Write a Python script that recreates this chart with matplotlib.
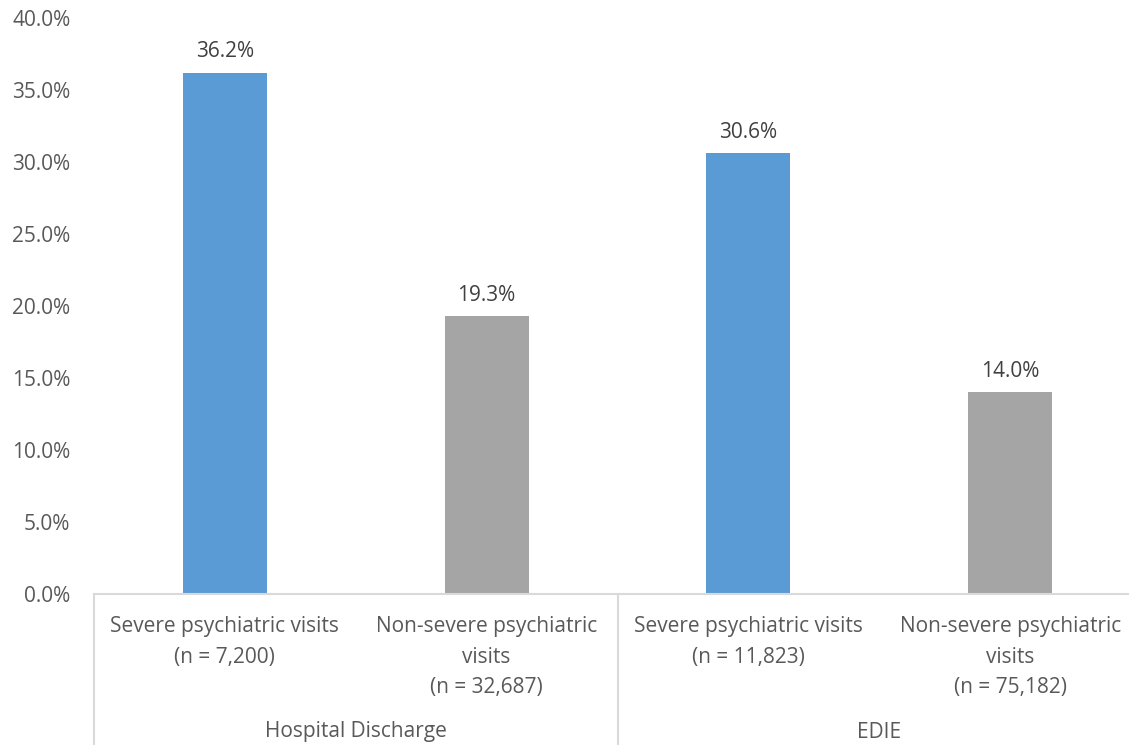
import matplotlib
matplotlib.use('Agg')
import matplotlib.pyplot as plt
from matplotlib.transforms import blended_transform_factory

# Chart data
categories = ["Severe psychiatric visits\n(n = 7,200)",
              "Non-severe psychiatric\nvisits\n(n = 32,687)",
              "Severe psychiatric visits\n(n = 11,823)",
              "Non-severe psychiatric\nvisits\n(n = 75,182)"]
values = [36.2, 19.3, 30.6, 14.0]
groups = ["Hospital Discharge", "EDIE"]
yticks = [0, 5, 10, 15, 20, 25, 30, 35, 40]

bar_colors = ['#5B9BD5', '#A5A5A5', '#5B9BD5', '#A5A5A5']
text_color = '#595959'
line_color = '#D9D9D9'

plt.rcParams['font.family'] = ['Open Sans', 'DejaVu Sans']

fig = plt.figure(figsize=(11.29, 7.45), dpi=100)
W, H = 1129, 745
ax = fig.add_axes([94 / W, (H - 594) / H, 1047 / W, 576 / H])

x = list(range(len(values)))
ax.bar(x, values, width=0.32, color=bar_colors)

# value labels above bars
for xi, v in zip(x, values):
    ax.annotate("%.1f%%" % v, (xi, v), xytext=(0, 11), textcoords='offset points',
                ha='center', va='baseline', fontsize=15, color='#404040')

ax.set_xlim(-0.5, 3.5)
ax.set_ylim(0, 40)
ax.set_yticks(yticks)
ax.set_yticklabels(["%.1f%%" % t for t in yticks])
ax.set_xticks(x)
ax.set_xticklabels(categories, linespacing=1.6)
ax.tick_params(axis='y', length=0, pad=17, labelsize=15, labelcolor=text_color)
ax.tick_params(axis='x', length=0, pad=16, labelsize=15, labelcolor=text_color)

for side in ['top', 'right', 'left']:
    ax.spines[side].set_visible(False)
ax.spines['bottom'].set_color(line_color)
ax.spines['bottom'].set_linewidth(1.5)

# group separators and group labels under the axis
trans = blended_transform_factory(ax.transData, ax.transAxes)
bottom = -151 / 576
for sx in [-0.5, 1.5, 3.5]:
    ax.plot([sx, sx], [0, bottom], transform=trans, color=line_color,
            lw=1.5, clip_on=False)
for gi, g in enumerate(groups):
    ax.text(gi * 2 + 0.5, -138 / 576, g, transform=trans, ha='center', va='center',
            fontsize=15, color=text_color)

fig.savefig('out.png', dpi=100)
